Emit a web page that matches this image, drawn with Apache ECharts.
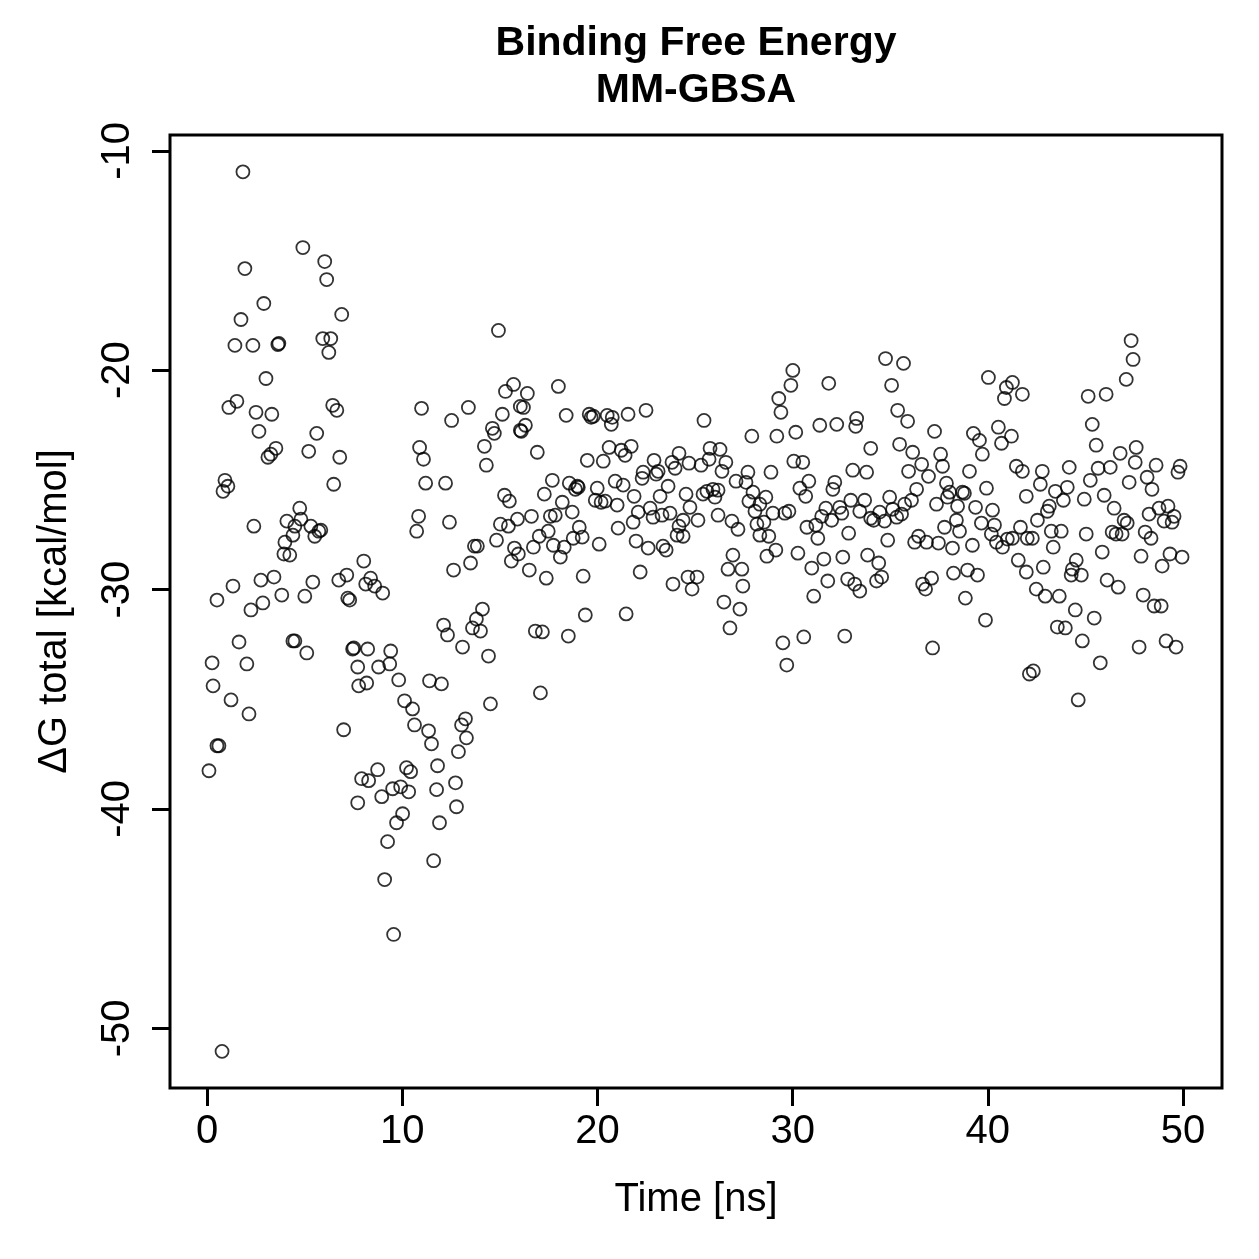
<!DOCTYPE html>
<html>
<head>
<meta charset="utf-8">
<title>Binding Free Energy MM-GBSA</title>
<script src="https://cdn.jsdelivr.net/npm/echarts@6/dist/echarts.min.js"></script>
<style>
  html, body { margin: 0; padding: 0; background: #fff; }
  #main { width: 1259px; height: 1259px; }
</style>
</head>
<body>
<div id="main"></div>
<script>
// time [ns] of each frame
const timeNs = [
  // 0 - 9 ns
  1.84, 4.91, 6.03, 6.13, 1.94, 2.91, 6.90, 1.74, 1.43, 2.35,
  3.68, 3.63, 5.93, 6.34, 6.24, 3.02, 1.53, 1.12, 2.51, 3.32,
  6.44, 6.65, 2.66, 5.62, 3.53, 3.27, 3.12, 5.21, 6.80, 0.92,
  1.07, 0.82, 6.49, 4.75, 2.40, 4.09, 4.81, 4.50, 5.32, 5.83,
  5.73, 5.52, 4.40, 3.99, 3.94, 4.24, 8.03, 1.33, 0.51, 2.76,
  3.43, 3.83, 2.86, 2.25, 5.01, 5.42, 6.75, 7.16, 7.21, 7.31,
  8.13, 8.38, 1.64, 4.40, 4.50, 5.11, 0.26, 2.04, 7.46, 7.52,
  8.23, 7.72, 0.31, 7.77, 8.18, 1.23, 2.15, 7.00, 0.51, 0.61,
  0.10, 7.92, 8.28, 7.72, 0.77,
  // 8 - 16 ns
  14.93, 15.70, 15.29, 16.05, 10.99, 13.39, 12.53, 15.13, 14.62, 14.72,
  16.05, 10.89, 11.09, 14.21, 14.31, 11.20, 12.22, 15.24, 15.49, 10.84,
  10.74, 12.42, 15.03, 15.44, 15.90, 14.83, 13.70, 13.85, 15.75, 15.95,
  15.59, 13.50, 12.63, 8.59, 9.00, 14.11, 13.80, 13.60, 14.01, 12.12,
  12.32, 13.09, 14.42, 9.41, 9.36, 8.79, 9.82, 11.40, 12.01, 14.52,
  10.12, 10.53, 10.63, 11.35, 11.50, 13.24, 13.04, 13.29, 12.88, 11.81,
  8.74, 10.22, 10.43, 12.73, 11.76, 9.51, 9.92, 10.33, 8.95, 12.78,
  10.02, 9.71, 11.91, 9.25, 11.61, 9.10, 9.56,
  // 16 - 25 ns
  16.41, 16.21, 18.00, 18.40, 16.31, 16.10, 16.92, 19.58, 19.68, 19.79,
  20.50, 20.76, 20.71, 21.57, 22.49, 20.60, 21.22, 21.73, 21.42, 19.48,
  20.30, 22.90, 23.82, 24.18, 23.98, 24.69, 22.34, 22.29, 23.11, 23.01,
  17.69, 17.28, 18.56, 18.97, 19.02, 18.87, 19.99, 19.89, 20.19, 20.40,
  20.91, 21.32, 21.88, 23.62, 23.21, 24.54, 24.74, 18.20, 18.71, 17.59,
  17.84, 16.62, 21.01, 22.09, 22.70, 22.85, 23.31, 23.72, 21.83, 24.39,
  24.18, 24.08, 24.39, 17.48, 17.02, 19.07, 18.76, 19.22, 21.06, 16.72,
  17.74, 18.30, 18.10, 20.09, 21.98, 22.60, 23.36, 23.52, 16.51, 17.38,
  19.27, 22.19, 23.87, 24.64, 24.85, 19.38, 21.47, 16.82, 17.18, 18.51,
  17.08,
  // 25 - 33 ns
  30.01, 29.91, 31.85, 29.29, 29.40, 25.46, 27.91, 29.19, 30.16, 31.39,
  32.26, 33.28, 33.23, 25.77, 26.28, 25.72, 26.58, 26.38, 25.31, 30.06,
  30.52, 28.89, 27.71, 27.10, 27.61, 33.08, 30.83, 30.37, 30.67, 32.16,
  32.06, 25.41, 25.61, 25.92, 26.02, 26.18, 27.97, 28.63, 27.76, 28.32,
  28.07, 32.98, 33.44, 31.70, 32.41, 32.52, 31.49, 32.00, 28.99, 29.60,
  29.81, 26.18, 25.15, 26.89, 27.20, 28.17, 28.53, 28.32, 28.78, 30.73,
  31.19, 31.29, 32.87, 26.94, 28.68, 29.14, 30.27, 31.60, 30.98, 32.57,
  26.69, 27.40, 25.10, 27.45, 31.80, 32.82, 33.18, 33.44, 31.08, 26.48,
  27.30, 26.79, 29.50, 30.57, 32.67, 29.70,
  // 33 - 42 ns
  34.76, 35.68, 35.07, 35.38, 35.89, 37.27, 34.00, 35.48, 36.15, 37.58,
  37.68, 36.61, 36.96, 35.94, 33.79, 39.06, 40.03, 41.26, 40.95, 40.85,
  41.77, 39.26, 39.57, 39.72, 40.54, 41.21, 40.70, 41.46, 41.77, 37.88,
  38.04, 38.70, 38.80, 37.93, 39.93, 41.97, 36.35, 36.09, 35.74, 34.97,
  35.12, 34.46, 34.71, 35.33, 35.58, 34.00, 34.15, 33.69, 37.37, 38.45,
  39.37, 40.24, 38.39, 37.78, 38.55, 39.67, 40.34, 40.18, 40.44, 40.75,
  41.00, 41.26, 41.67, 42.02, 34.87, 36.45, 36.25, 36.86, 37.47, 38.19,
  39.21, 41.56, 41.97, 33.84, 34.41, 34.30, 34.56, 36.66, 37.12, 36.81,
  38.24, 38.96, 39.47, 38.85, 39.88, 37.17, 42.13,
  // 42 - 50 ns
  47.34, 47.44, 47.09, 45.14, 46.06, 45.35, 45.55, 46.78, 47.60, 47.55,
  45.65, 46.27, 45.25, 47.24, 48.16, 48.41, 48.62, 49.85, 49.74, 44.17,
  42.79, 42.69, 43.46, 44.07, 43.87, 44.94, 45.96, 46.47, 43.15, 43.05,
  42.54, 46.98, 47.14, 48.26, 48.77, 49.23, 49.54, 49.03, 49.44, 42.28,
  43.25, 43.76, 45.04, 46.37, 46.57, 46.88, 48.06, 48.36, 43.35, 45.86,
  47.85, 49.33, 49.95, 48.93, 44.53, 44.33, 44.27, 44.79, 42.84, 46.11,
  46.68, 42.48, 42.94, 43.66, 47.96, 48.52, 48.88, 44.48, 45.45, 43.56,
  43.97, 44.84, 47.75, 49.13, 49.64, 45.76, 42.33, 44.63
];

// ΔG total [kcal/mol], same order as timeNs
const dGTotal = [
  // 0 - 9 ns
  -10.96, -14.41, -15.05, -15.87, -15.37, -16.96, -17.46, -17.69, -18.87, -18.87,
  -18.78, -18.83, -18.56, -18.56, -19.19, -20.38, -21.42, -21.70, -21.92, -22.01,
  -21.60, -21.83, -22.79, -22.88, -23.56, -23.83, -23.97, -23.70, -23.97, -25.02,
  -25.29, -25.52, -25.20, -26.29, -27.11, -26.88, -26.79, -27.11, -27.11, -27.29,
  -27.34, -27.57, -27.52, -27.84, -28.38, -28.43, -28.70, -29.84, -30.48, -29.57,
  -29.43, -30.25, -30.61, -30.93, -30.30, -29.66, -29.57, -29.34, -30.39, -30.48,
  -29.75, -29.48, -32.39, -32.34, -32.34, -32.89, -33.34, -33.39, -32.71, -32.66,
  -32.71, -33.53, -34.39, -34.39, -34.26, -35.03, -35.67, -36.39, -37.12, -37.12,
  -38.26, -38.62, -38.71, -39.72, -51.05,
  // 8 - 16 ns
  -18.19, -20.65, -20.97, -21.65, -21.74, -21.70, -22.29, -22.01, -22.65, -22.88,
  -22.74, -23.52, -24.06, -23.47, -24.33, -25.15, -25.15, -25.70, -25.97, -26.66,
  -27.34, -26.93, -27.02, -27.11, -26.79, -27.75, -28.02, -28.02, -28.11, -28.38,
  -28.70, -28.79, -29.11, -29.84, -30.16, -30.89, -31.34, -31.75, -31.89, -31.62,
  -32.07, -32.62, -33.03, -32.80, -33.39, -33.53, -34.12, -34.16, -34.30, -35.21,
  -35.07, -35.44, -36.17, -36.44, -37.03, -35.89, -36.17, -36.76, -37.39, -38.03,
  -38.21, -38.12, -38.30, -38.81, -39.12, -39.08, -38.99, -39.22, -39.44, -39.90,
  -40.22, -40.63, -40.63, -41.49, -42.36, -43.22, -45.72,
  // 16 - 25 ns
  -21.06, -21.70, -20.74, -22.06, -22.51, -22.79, -23.74, -22.01, -22.15, -22.10,
  -22.06, -22.15, -22.47, -22.01, -21.83, -23.52, -23.65, -23.47, -23.88, -24.11,
  -24.15, -24.11, -24.20, -23.79, -24.47, -24.24, -24.65, -24.93, -24.61, -24.74,
  -25.02, -25.65, -25.15, -25.29, -25.34, -25.43, -25.38, -25.93, -26.02, -25.97,
  -25.06, -25.24, -25.75, -25.29, -25.75, -25.65, -26.25, -26.02, -26.47, -26.66,
  -26.61, -26.66, -26.15, -26.47, -26.29, -26.70, -26.61, -26.52, -26.93, -26.84,
  -27.11, -27.52, -27.57, -27.34, -27.57, -27.16, -27.66, -27.61, -27.20, -28.07,
  -27.98, -28.07, -28.52, -27.93, -27.79, -28.11, -28.02, -28.20, -29.11, -29.48,
  -29.39, -29.20, -29.75, -29.43, -29.98, -31.16, -31.11, -31.89, -31.93, -32.12,
  -34.71,
  // 25 - 33 ns
  -20.01, -20.69, -20.60, -21.29, -21.92, -22.29, -23.01, -23.01, -22.83, -22.51,
  -22.47, -22.20, -22.56, -23.56, -23.61, -24.06, -24.20, -24.61, -24.33, -24.15,
  -24.20, -24.65, -24.65, -25.06, -25.11, -24.56, -25.06, -25.38, -25.75, -25.11,
  -25.43, -25.65, -25.52, -25.43, -25.79, -25.47, -25.56, -25.79, -25.97, -26.11,
  -26.43, -25.93, -26.43, -26.29, -26.25, -26.52, -26.66, -26.84, -26.52, -26.52,
  -26.43, -26.61, -26.84, -26.88, -27.25, -27.02, -26.93, -27.52, -27.57, -27.16,
  -27.06, -27.66, -27.43, -28.43, -28.48, -28.20, -28.34, -28.61, -29.02, -28.52,
  -29.07, -29.07, -29.43, -29.84, -29.61, -29.52, -29.75, -30.07, -30.30, -30.57,
  -30.89, -31.75, -32.43, -32.16, -32.12, -33.44,
  // 33 - 42 ns
  -19.47, -19.69, -20.69, -21.83, -22.33, -22.79, -23.56, -23.38, -23.74, -23.83,
  -24.38, -24.29, -24.84, -24.61, -24.65, -24.61, -20.33, -20.56, -20.79, -21.29,
  -21.10, -22.88, -23.20, -23.83, -22.60, -23.01, -23.33, -24.38, -24.61, -25.15,
  -25.56, -25.56, -25.61, -25.79, -25.38, -25.75, -25.43, -25.93, -26.11, -25.79,
  -26.34, -26.47, -26.88, -26.70, -26.56, -26.75, -26.84, -25.93, -26.11, -26.20,
  -26.25, -26.38, -26.84, -27.16, -27.34, -26.97, -27.06, -27.47, -27.84, -28.07,
  -27.70, -27.66, -27.16, -27.66, -27.75, -27.57, -27.84, -27.84, -27.88, -28.11,
  -27.98, -28.66, -29.20, -28.43, -28.79, -29.61, -29.43, -29.75, -29.48, -29.98,
  -29.25, -29.11, -29.34, -30.39, -31.39, -32.66, -33.85,
  // 42 - 50 ns
  -18.65, -19.51, -20.42, -21.19, -21.10, -22.47, -23.42, -23.79, -23.52, -24.20,
  -24.47, -24.43, -25.02, -25.11, -24.88, -25.43, -24.33, -24.38, -24.65, -24.43,
  -24.61, -25.20, -25.52, -25.34, -25.93, -25.88, -25.70, -26.29, -26.20, -26.43,
  -26.84, -26.84, -26.97, -26.56, -26.29, -26.20, -26.66, -26.88, -26.93, -27.66,
  -27.34, -27.34, -27.47, -27.38, -27.47, -27.47, -27.38, -27.66, -28.07, -28.29,
  -28.48, -28.38, -28.52, -28.93, -28.66, -29.07, -29.34, -29.34, -28.98, -29.57,
  -29.89, -29.98, -30.30, -30.30, -30.25, -30.75, -30.75, -30.93, -31.30, -31.71,
  -31.75, -32.34, -32.62, -32.34, -32.62, -33.34, -33.71, -35.03
];

const xTicks = [0, 10, 20, 30, 40, 50];
const yTicks = [-50, -40, -30, -20, -10];

if (timeNs.length !== dGTotal.length) {
  console.log('length mismatch', timeNs.length, dGTotal.length);
}

const points = timeNs.map(function (t, i) { return [t, dGTotal[i]]; });

const font = 'Liberation Sans, Arial, Helvetica, sans-serif';

const myChart = echarts.init(document.getElementById('main'));
const option = {
  animation: false,
  backgroundColor: '#ffffff',
  title: {
    text: 'Binding Free Energy\nMM-GBSA',
    left: 696,
    top: 20,
    textAlign: 'center',
    padding: 0,
    textStyle: {
      fontFamily: font,
      fontWeight: 'bold',
      fontSize: 41,
      lineHeight: 47,
      color: '#000'
    }
  },
  grid: {
    left: 170,
    right: 37,
    top: 135,
    bottom: 171,
    show: true,
    borderColor: '#000',
    borderWidth: 3,
    backgroundColor: 'transparent'
  },
  xAxis: {
    type: 'value',
    min: -1.896,
    max: 51.996,
    name: 'Time [ns]',
    nameLocation: 'middle',
    nameGap: 92,
    nameTextStyle: { fontFamily: font, fontSize: 40, color: '#000' },
    axisLine: { show: false, onZero: false },
    axisTick: {
      show: true,
      inside: false,
      length: 18,
      customValues: xTicks,
      lineStyle: { color: '#000', width: 3 }
    },
    axisLabel: {
      customValues: xTicks,
      margin: 24,
      fontFamily: font,
      fontSize: 40,
      color: '#000'
    },
    splitLine: { show: false }
  },
  yAxis: {
    type: 'value',
    min: -52.72,
    max: -9.28,
    name: 'ΔG total [kcal/mol]',
    nameLocation: 'middle',
    nameRotate: 90,
    nameGap: 95,
    nameTextStyle: { fontFamily: font, fontSize: 40, color: '#000' },
    axisLine: { show: false, onZero: false },
    axisTick: {
      show: true,
      inside: false,
      length: 18,
      customValues: yTicks,
      lineStyle: { color: '#000', width: 3 }
    },
    axisLabel: {
      customValues: yTicks,
      rotate: 90,
      margin: 32,
      fontFamily: font,
      fontSize: 40,
      color: '#000'
    },
    splitLine: { show: false }
  },
  series: [
    {
      type: 'scatter',
      data: points,
      symbol: 'circle',
      symbolSize: 13,
      itemStyle: {
        color: 'rgba(0,0,0,0)',
        borderColor: '#000',
        borderWidth: 1.8
      }
    }
  ]
};
myChart.setOption(option);
</script>
</body>
</html>
